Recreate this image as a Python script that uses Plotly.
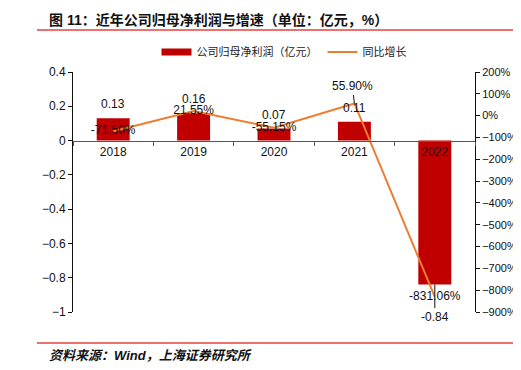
import plotly.graph_objects as go

years = ["2018", "2019", "2020", "2021", "2022"]
profit = [0.13, 0.16, 0.07, 0.11, -0.84]
growth = [-71.50, 21.55, -55.15, 55.90, -831.06]

BAR_COLOR = "#C00000"
LINE_COLOR = "#ED7D31"
FONT = "Liberation Sans, Arial, Noto Sans CJK SC, sans-serif"
CJK = "Noto Sans CJK SC, sans-serif"

# page has an 8px body margin, so the figure is drawn at offset (8, 8)
OFF = 8
W, H = 521 - OFF, 370 - OFF
PL, PR, PT, PB = 73, 475, 72, 312          # plot area in window pixels
L, R, T, B = PL - OFF, 521 - PR, PT - OFF, 370 - PB
pw, ph = PR - PL, PB - PT

def px_x(x):
    return (x - PL) / pw

def px_y(y):
    return (PB - y) / ph

fig = go.Figure()

fig.add_trace(go.Bar(
    x=years, y=profit, marker_color=BAR_COLOR, width=0.41,
    name="公司归母净利润（亿元）", showlegend=False, yaxis="y",
))

# legend proxy for the bar series (wide rectangle like the original)
fig.add_trace(go.Scatter(
    x=[years[0]], y=[None], mode="lines", line=dict(color=BAR_COLOR, width=7),
    name="公司归母净利润（亿元）", yaxis="y",
))

line_text = [f"{g:.2f}%" if i != 3 else "" for i, g in enumerate(growth)]
fig.add_trace(go.Scatter(
    x=years, y=growth, mode="lines+text", yaxis="y2",
    line=dict(color=LINE_COLOR, width=2),
    text=line_text, textposition="middle center",
    textfont=dict(family=FONT, size=12, color="#111"),
    name="同比增长",
))

annotations = []
for i, v in enumerate(profit):
    if v >= 0:
        annotations.append(dict(x=i, y=v, xref="x", yref="y", text=f"{v:.2f}",
                                showarrow=False, yshift=14,
                                font=dict(family=FONT, size=12, color="#111")))
    else:
        annotations.append(dict(x=i, y=v, xref="x", yref="y", text=f"{v:.2f}",
                                showarrow=True, arrowhead=0, arrowwidth=1,
                                arrowcolor="#111", ax=0, ay=32,
                                font=dict(family=FONT, size=12, color="#111")))

annotations.append(dict(x=3, y=growth[3], xref="x", yref="y2",
                        text=f"{growth[3]:.2f}%", showarrow=True, arrowhead=0,
                        arrowwidth=1, arrowcolor="#111", ax=-2, ay=-17,
                        font=dict(family=FONT, size=12, color="#111")))

annotations.append(dict(x=px_x(47), y=px_y(20), xref="paper", yref="paper",
                        xanchor="left", yanchor="middle", showarrow=False,
                        text="<b>图 11：近年公司归母净利润与增速（单位：亿元，%）</b>",
                        font=dict(family=FONT, size=14, color="#111")))
annotations.append(dict(x=px_x(47), y=px_y(355), xref="paper", yref="paper",
                        xanchor="left", yanchor="middle", showarrow=False,
                        text="<b>资料来源：Wind，上海证券研究所</b>",
                        font=dict(family=FONT, size=13, color="#111", style="italic")))

shapes = [
    dict(type="line", xref="paper", yref="paper", x0=px_x(37), x1=px_x(517),
         y0=px_y(30), y1=px_y(30), line=dict(color="#E8403F", width=1.5)),
    dict(type="line", xref="paper", yref="paper", x0=px_x(37), x1=px_x(517),
         y0=px_y(343), y1=px_y(343), line=dict(color="#E8403F", width=1.5)),
]

fig.update_layout(
    template="none",
    width=W, height=H,
    margin=dict(l=L, r=R, t=T, b=B, autoexpand=False),
    paper_bgcolor="white", plot_bgcolor="white",
    font=dict(family=FONT, size=11, color="#111"),
    showlegend=True,
    legend=dict(orientation="h", x=px_x(284), xanchor="center", y=px_y(52),
                yanchor="middle", font=dict(family=CJK, size=11, color="#222"),
                bgcolor="rgba(0,0,0,0)", borderwidth=0),
    xaxis=dict(type="category", categoryorder="array", categoryarray=years,
               range=[-0.5, len(years) - 0.5], autorange=False, automargin=False,
               anchor="free", position=1 / 1.4,
               showline=True, linecolor="#555", linewidth=1,
               ticks="outside", tickson="boundaries", ticklen=4, tickcolor="#555",
               showgrid=False, zeroline=False, tickangle=0,
               tickfont=dict(family=FONT, size=12, color="#111")),
    yaxis=dict(range=[-1, 0.4], autorange=False, automargin=False, dtick=0.2,
               showline=True, linecolor="#111", linewidth=1, ticks="outside",
               ticklen=4, tickcolor="#111", showgrid=False, zeroline=False,
               tickfont=dict(family=FONT, size=12, color="#111")),
    yaxis2=dict(range=[-900, 200], autorange=False, automargin=False, dtick=100,
                overlaying="y", side="right", showline=True, linecolor="#111",
                linewidth=1, ticks="outside", ticklen=4, tickcolor="#111",
                ticksuffix="%", showgrid=False, zeroline=False,
                tickfont=dict(family=FONT, size=11, color="#111")),
    annotations=annotations,
    shapes=shapes,
)

fig.write_html("out.html")
